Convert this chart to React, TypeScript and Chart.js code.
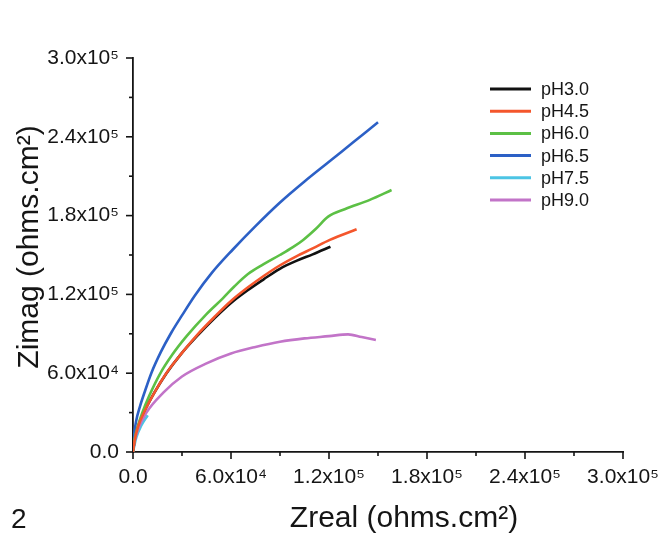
import React, { useEffect, useRef } from "react";
import { Chart, registerables } from "chart.js";

Chart.register(...registerables);

// ---- Data (ohms.cm²) ----
const SERIES_LABELS = ["pH3.0", "pH4.5", "pH6.0", "pH6.5", "pH7.5", "pH9.0"];
const SERIES_COLORS = ["#111111", "#f4562c", "#5cc045", "#2c60c6", "#4cc4e4", "#c274c8"];

const ph30X = [0, 1000, 3000, 7000, 13000, 20500, 29000, 39000, 50000, 60000, 70000, 80000, 89900, 100000, 110000, 120900];
const ph30Y = [0, 9000, 19000, 31000, 45000, 60000, 74000, 88000, 102000, 113500, 123000, 131500, 139500, 145500, 150500, 156300];

const ph45X = [0, 1000, 3000, 7100, 13000, 20400, 29000, 38800, 50000, 60000, 70000, 80000, 89800, 100000, 110000, 120500, 136900];
const ph45Y = [0, 9000, 19000, 31000, 45000, 60000, 74000, 88500, 103000, 115000, 125000, 134000, 142000, 149000, 155000, 161500, 169600];

const ph60X = [0, 1000, 3000, 5700, 10000, 16300, 24000, 32700, 45000, 55000, 62000, 70400, 80000, 89900, 97900, 104200, 112000, 119500, 130000, 145000, 158300];
const ph60Y = [0, 10000, 20000, 30000, 43000, 59000, 74000, 88000, 105000, 117000, 126000, 135500, 143000, 150000, 156000, 161500, 170000, 179200, 185000, 192000, 199500];

const ph65X = [0, 700, 2000, 4100, 7500, 11200, 17000, 23500, 30000, 37800, 48000, 61000, 75000, 90000, 105000, 120000, 135000, 150000];
const ph65Y = [0, 13000, 24000, 34000, 47000, 60000, 76000, 91000, 104000, 119000, 136000, 154000, 172000, 190000, 206000, 221000, 236000, 251000];

const ph75X = [0, 2000, 5000, 9000];
const ph75Y = [0, 11000, 20000, 28000];

const ph90X = [0, 1000, 3000, 8200, 18400, 30000, 45000, 60000, 75000, 90000, 105000, 120000, 131700, 140000, 148700];
const ph90Y = [0, 8000, 17000, 30000, 45000, 57500, 67500, 75000, 80000, 84000, 86500, 88200, 89600, 87500, 85300];

const SERIES_X = [ph30X, ph45X, ph60X, ph65X, ph75X, ph90X];
const SERIES_Y = [ph30Y, ph45Y, ph60Y, ph65Y, ph75Y, ph90Y];

const AXIS_MIN = 0;
const AXIS_MAX = 300000;
const MINOR_STEP = 30000;
const MAJOR_TICKS = [0, 60000, 120000, 180000, 240000, 300000];
const MAJOR_LABELS = ["0.0", "6.0x10\u2074", "1.2x10\u2075", "1.8x10\u2075", "2.4x10\u2075", "3.0x10\u2075"];

const X_TITLE = "Zreal (ohms.cm\u00B2)";
const Y_TITLE = "Zimag (ohms.cm\u00B2)";
const PANEL_LABEL = "2";

const FONT = '"Liberation Sans", Arial, Helvetica, sans-serif';
const INK = "#151515";

function tickLabel(value: number | string) {
  const i = MAJOR_TICKS.indexOf(Number(value));
  return i >= 0 ? MAJOR_LABELS[i] : "";
}

const decorPlugin = {
  id: "decor",
  afterDraw(chart: any) {
    const { ctx, chartArea, scales } = chart;
    const xs = scales.x;
    const ys = scales.y;
    ctx.save();
    // tick marks (major long, minor short), outward
    ctx.strokeStyle = INK;
    ctx.lineWidth = 1.6;
    for (let v = AXIS_MIN; v <= AXIS_MAX; v += MINOR_STEP) {
      const major = MAJOR_TICKS.indexOf(v) >= 0;
      const len = major ? 7 : 4;
      const px = xs.getPixelForValue(v);
      ctx.beginPath();
      ctx.moveTo(px, chartArea.bottom);
      ctx.lineTo(px, chartArea.bottom + len);
      ctx.stroke();
      const py = ys.getPixelForValue(v);
      ctx.beginPath();
      ctx.moveTo(chartArea.left, py);
      ctx.lineTo(chartArea.left - len, py);
      ctx.stroke();
    }

    // axis titles
    ctx.fillStyle = INK;
    ctx.font = `30px ${FONT}`;
    ctx.textAlign = "center";
    ctx.textBaseline = "alphabetic";
    ctx.fillText(X_TITLE, 404, 527);
    ctx.save();
    ctx.translate(38, 247);
    ctx.rotate(-Math.PI / 2);
    ctx.fillText(Y_TITLE, 0, 0);
    ctx.restore();

    // panel label
    ctx.font = `28px ${FONT}`;
    ctx.textAlign = "left";
    ctx.fillText(PANEL_LABEL, 11, 528);

    // legend
    const lx0 = 490;
    const lx1 = 531;
    const ly0 = 89;
    const lstep = 22.2;
    ctx.font = `18px ${FONT}`;
    ctx.textBaseline = "middle";
    chart.data.datasets.forEach((ds: any, i: number) => {
      const y = ly0 + i * lstep;
      ctx.strokeStyle = ds.borderColor;
      ctx.lineWidth = 3;
      ctx.beginPath();
      ctx.moveTo(lx0, y);
      ctx.lineTo(lx1, y);
      ctx.stroke();
      ctx.fillStyle = INK;
      ctx.fillText(ds.label, 541, y + 1);
    });
    ctx.restore();
  },
};

export default function App() {
  const ref = useRef<HTMLCanvasElement>(null);

  useEffect(() => {
    if (!ref.current) return;
    const datasets = SERIES_LABELS.map((label, i) => ({
      label,
      data: SERIES_X[i].map((x, j) => ({ x, y: SERIES_Y[i][j] })),
      borderColor: SERIES_COLORS[i],
      backgroundColor: SERIES_COLORS[i],
      borderWidth: 2.6,
      pointRadius: 0,
      showLine: true,
      fill: false,
      cubicInterpolationMode: "monotone" as const,
      order: label === "pH7.5" ? 10 : label === "pH3.0" ? 2 : 0,
    }));

    const axisCommon = {
      type: "linear" as const,
      min: AXIS_MIN,
      max: AXIS_MAX,
      grid: { display: false, drawTicks: false },
      border: { display: true, color: INK, width: 1.8 },
    };

    const chart = new Chart(ref.current, {
      type: "scatter",
      data: { datasets },
      options: {
        responsive: false,
        animation: false,
        devicePixelRatio: 1,
        layout: { padding: { left: 0, right: 39, top: 58, bottom: 0 } },
        plugins: { legend: { display: false }, tooltip: { enabled: false } },
        scales: {
          x: {
            ...axisCommon,
            position: "bottom",
            ticks: {
              stepSize: MINOR_STEP,
              autoSkip: false,
              maxRotation: 0,
              minRotation: 0,
              padding: 13,
              color: INK,
              font: { family: FONT, size: 21 },
              callback: tickLabel,
            },
            afterFit: (s: any) => {
              s.height = 84;
              s.paddingLeft = 0;
              s.paddingRight = 0;
            },
          },
          y: {
            ...axisCommon,
            position: "left",
            ticks: {
              stepSize: MINOR_STEP,
              autoSkip: false,
              padding: 14,
              color: INK,
              font: { family: FONT, size: 21 },
              callback: tickLabel,
            },
            afterFit: (s: any) => {
              s.width = 133;
              s.paddingTop = 0;
              s.paddingBottom = 0;
            },
          },
        },
      },
      plugins: [decorPlugin],
    } as any);
    return () => chart.destroy();
  }, []);

  return (
    <div style={{ position: "absolute", left: 0, top: 0, width: 662, height: 536, background: "#ffffff" }}>
      <canvas ref={ref} width={662} height={536} style={{ display: "block", width: 662, height: 536 }} />
    </div>
  );
}
